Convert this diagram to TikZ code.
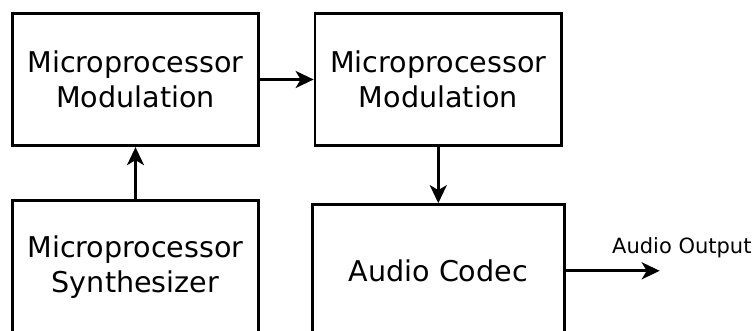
\documentclass[tikz,border=0pt]{standalone}
\usepackage{fontspec}
\setmainfont{DejaVu Sans}
\usetikzlibrary{arrows.meta, positioning}

\tikzset{
  block/.style={draw, line width=2.8pt, minimum width=246.5pt, minimum height=132.5pt,
    align=center, font=\fontsize{28.6}{35}\selectfont, inner sep=0pt},
  link/.style={-{Stealth[length=18pt,width=17pt,inset=5pt]}, line width=2.8pt},
  outtext/.style={font=\fontsize{21}{25}\selectfont, inner sep=0pt}
}

\begin{document}
\begin{tikzpicture}[node distance=52pt]
\useasboundingbox (0pt,0pt) rectangle (753pt,-331pt);
\node[block] (modA) at (135.5pt,-79.5pt) {Microprocessor\\Modulation};
\node[block, right=53.5pt of modA] (modB) {Microprocessor\\Modulation};
\node[block, below=52.25pt of modA] (synth) {Microprocessor\\Synthesizer};
\node[block, minimum width=252pt, below=56pt of modB] (codec) {Audio Codec};
\coordinate[right=94pt of codec.east] (out);
\node[outtext, anchor=base west] (outlbl) at ([xshift=-47.7pt,yshift=17pt]out) {Audio Output};

\path[link] (modA) edge (modB);
\path[link] (synth) edge (modA);
\path[link] (modB) edge (codec);
\draw[link] (codec.east) -- (out);
\end{tikzpicture}
\end{document}
